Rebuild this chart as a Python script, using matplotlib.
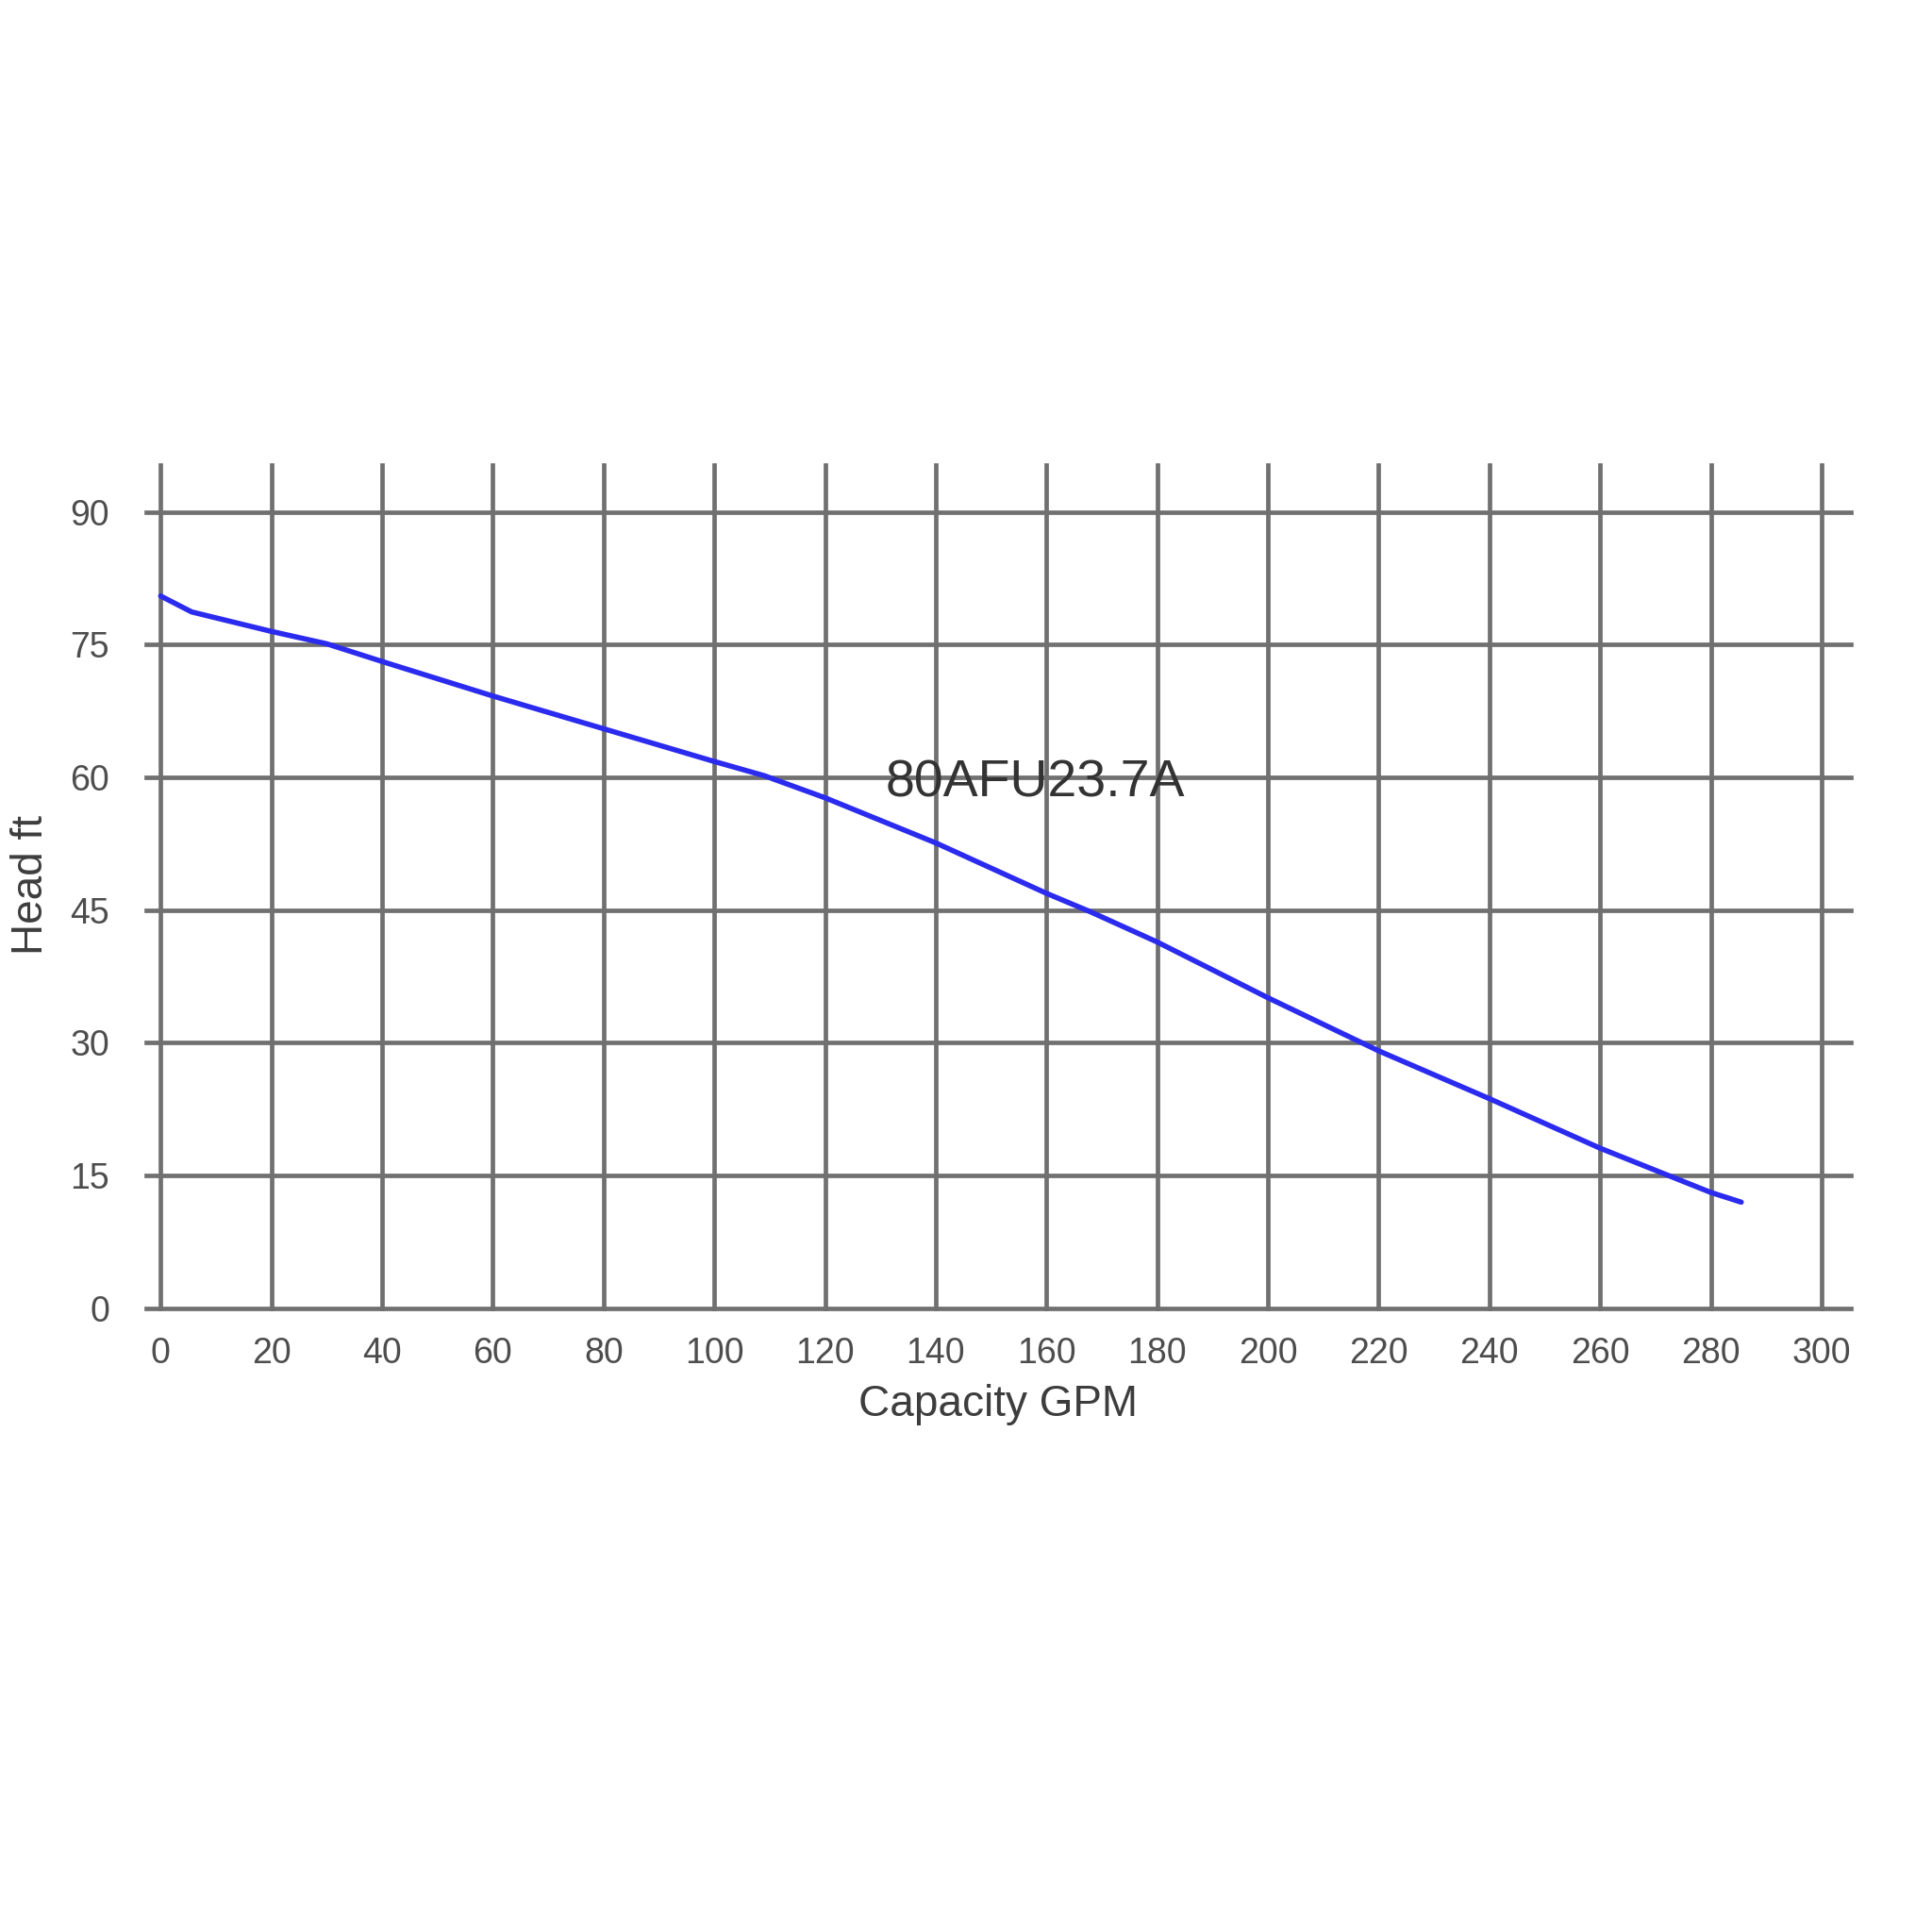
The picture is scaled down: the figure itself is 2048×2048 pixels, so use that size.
import matplotlib
matplotlib.use("Agg")
import matplotlib.pyplot as plt

# Data
capacity_gpm = [0, 5.6, 20, 30, 40, 60, 80, 100, 109, 120, 140, 160, 168, 180, 200, 220, 240, 260, 280, 285.5]
head_ft = [80.5, 78.7, 76.5, 75.1, 73.1, 69.2, 65.5, 61.8, 60.2, 57.7, 52.6, 46.9, 44.8, 41.4, 35.1, 29.1, 23.7, 18.1, 13.1, 12.0]
x_ticks = list(range(0, 301, 20))
y_ticks = [0, 15, 30, 45, 60, 75, 90]
model_label = "80AFU23.7A"

plt.rcParams['font.family'] = ['Liberation Sans', 'DejaVu Sans']

fig = plt.figure(figsize=(20.48, 20.48), dpi=100)
ax = fig.add_axes([0.0757, 0.3228, 0.958 - 0.0757, 0.7593 - 0.3228])

ax.plot(capacity_gpm, head_ft, color='#2b2bef', linewidth=4.0, solid_capstyle='round',
        solid_joinstyle='round', zorder=3)

ax.set_xlim(-2.6, 305.3)
ax.set_ylim(0, 95.3)
ax.set_xticks(x_ticks)
ax.set_yticks(y_ticks)
ax.tick_params(length=0, labelsize=27, colors='#4d4d4d')
ax.tick_params(axis='x', pad=22)
ax.tick_params(axis='y', pad=28)
for s in ax.spines.values():
    s.set_visible(False)
ax.grid(True, color='#707070', linewidth=3.4)
for gl in ax.get_xgridlines() + ax.get_ygridlines():
    gl.set_clip_on(False)
ax.set_axisbelow(True)

ax.text(158, 59.3, model_label, fontsize=40, color='#333333', ha='center', va='center', zorder=4)

fig.text(1058 / 2048, 1 - 1489 / 2048, "Capacity GPM", fontsize=33, color='#3d3d3d', ha='center', va='center')
fig.text(33 / 2048, 1 - 938 / 2048, "Head ft", fontsize=33, color='#3d3d3d', ha='center', va='center', rotation=90)

fig.savefig("out.png", dpi=100, facecolor='white')
